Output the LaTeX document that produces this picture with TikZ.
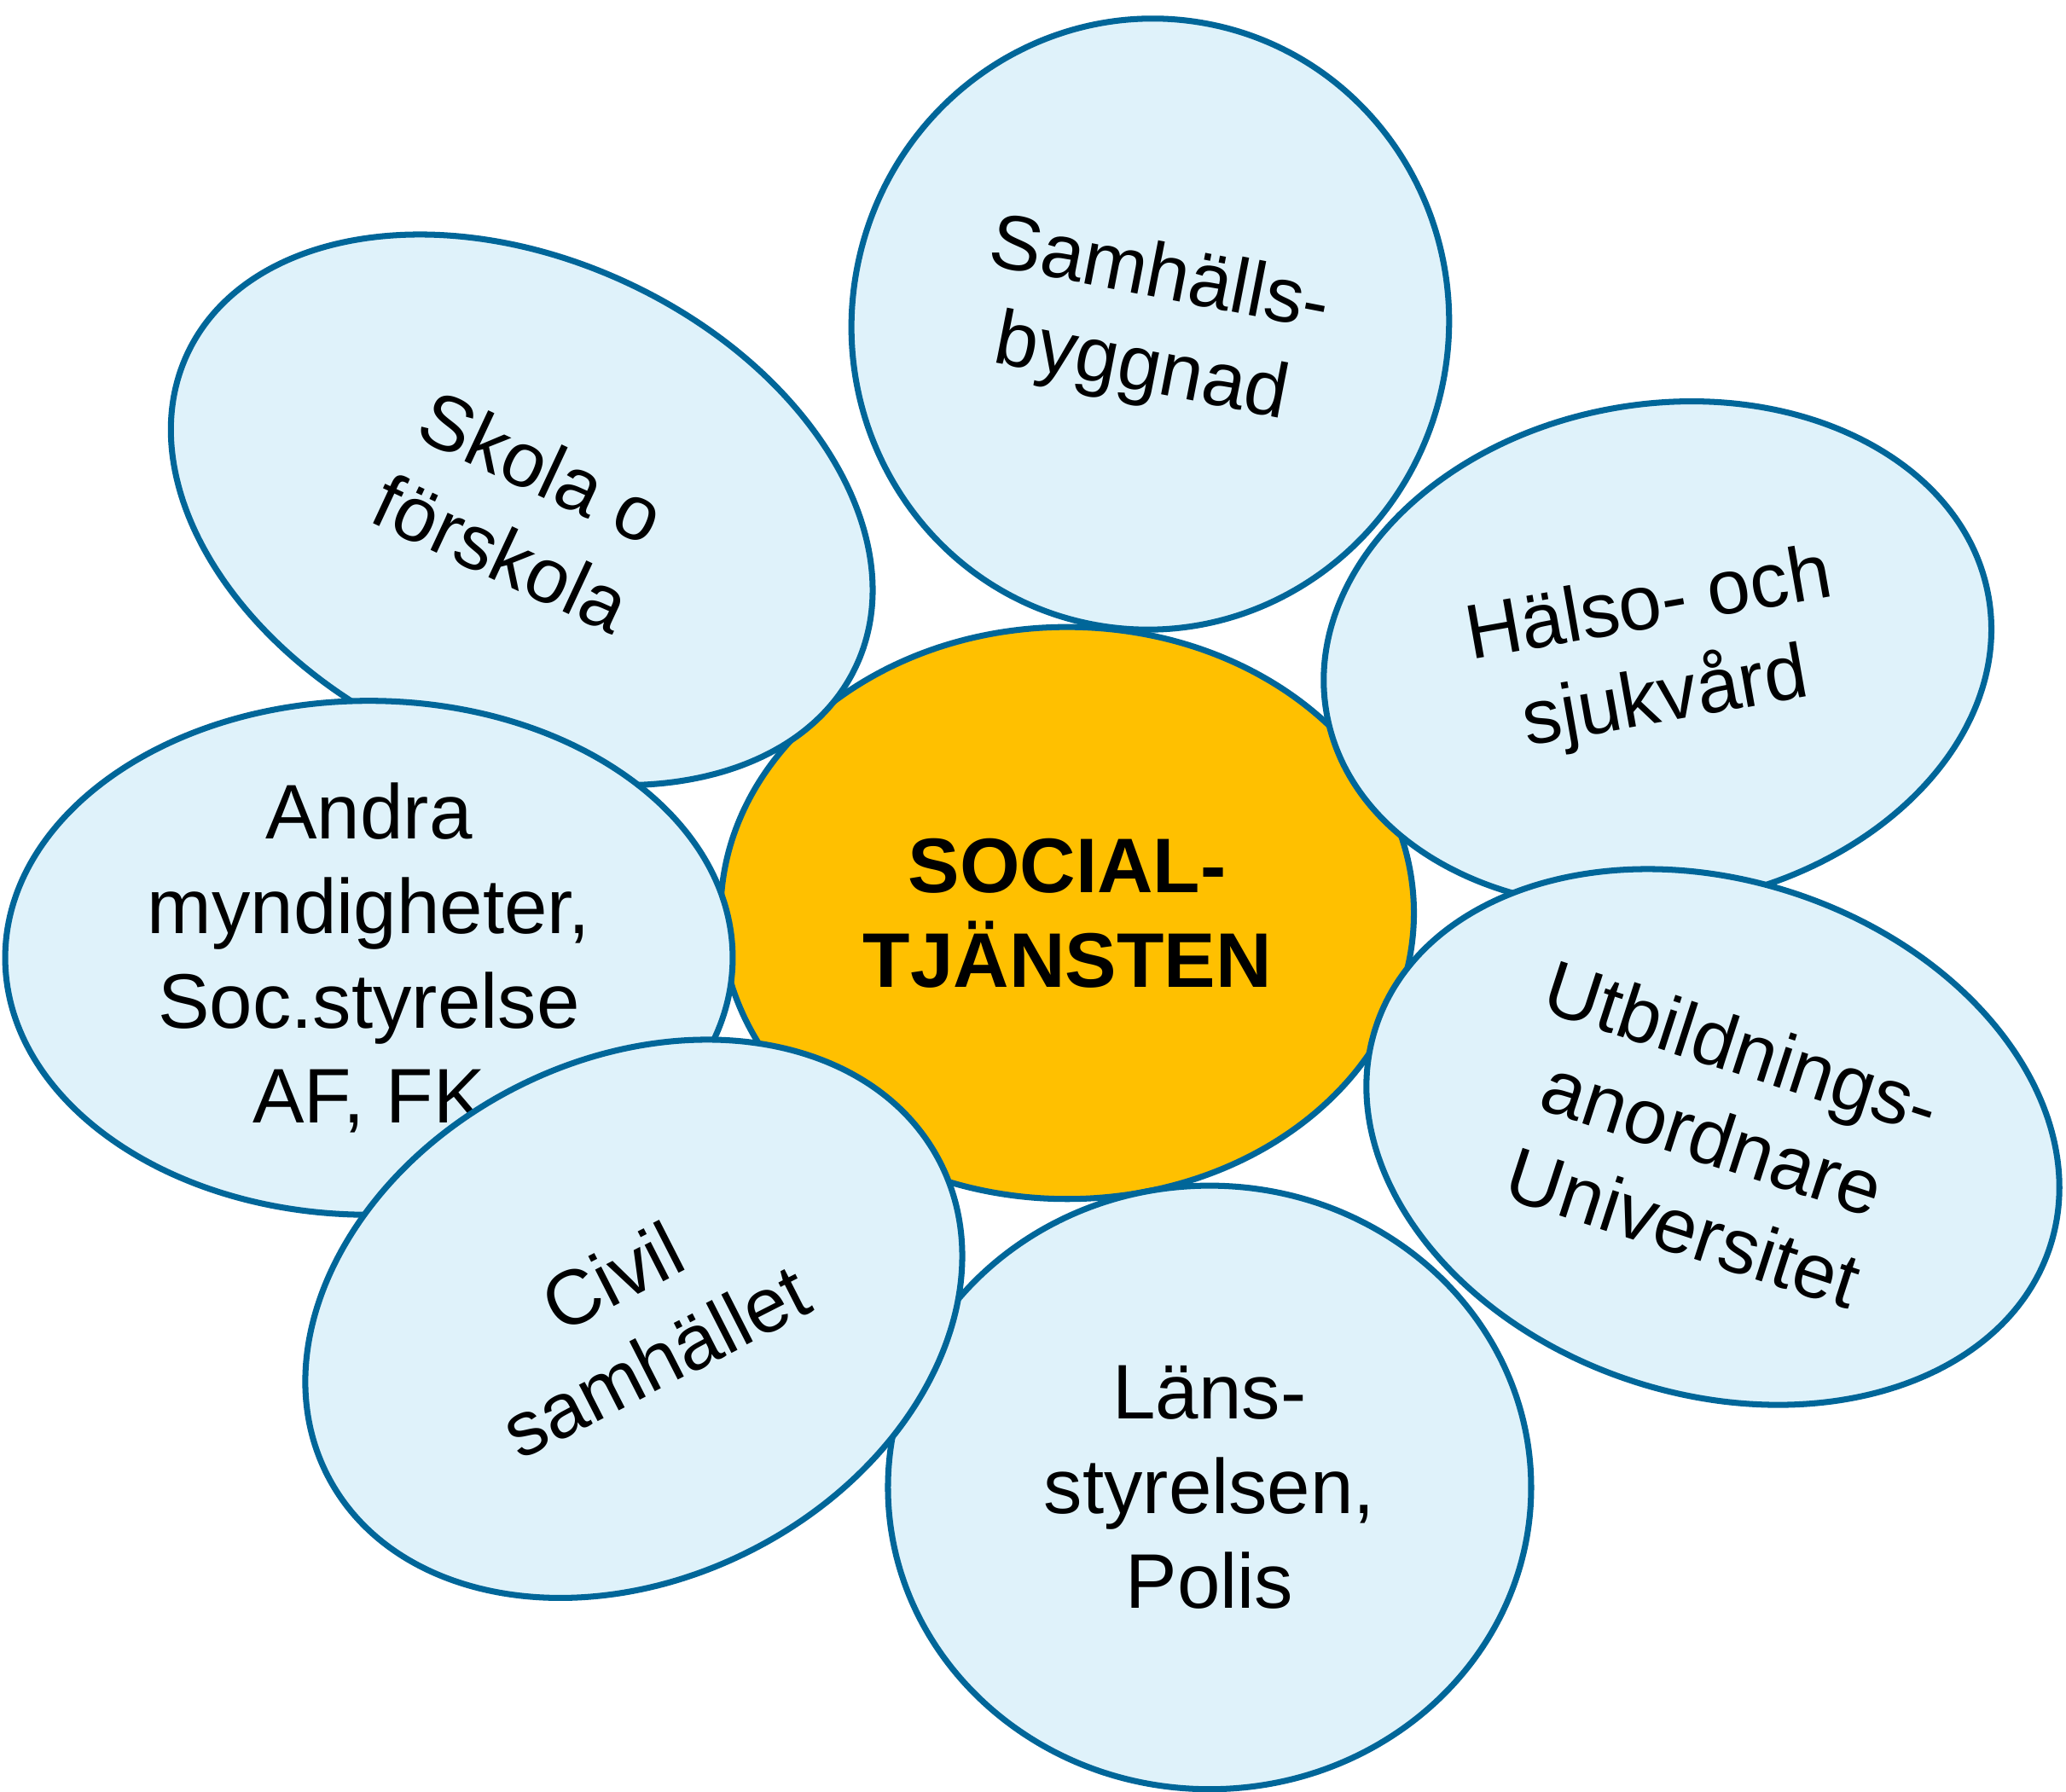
\documentclass[tikz,border=0pt]{standalone}
\usepackage{fontspec}
\setmainfont{Liberation Sans}
\usetikzlibrary{shapes.geometric}
\definecolor{petalfill}{HTML}{DFF2FA}
\definecolor{petalline}{HTML}{006699}
\definecolor{corefill}{HTML}{FFC000}
\tikzset{
  petal/.style={ellipse, draw=petalline, line width=2pt, fill=petalfill,
    inner sep=0pt, align=center, font=\fontsize{25.8}{31.6}\selectfont},
  core/.style={petal, fill=corefill, font=\fontsize{25.8}{31.6}\selectfont\bfseries}
}
\begin{document}
\begin{tikzpicture}[x=0.015446cm, y=-0.015446cm]
\useasboundingbox[fill=white] (0,0) rectangle (1568,1360);
\node[core, minimum width=8.125cm, minimum height=6.704cm] (core) at (810,693) {SOCIAL-\\TJÄNSTEN};
\node[petal, minimum width=7.538cm, minimum height=7.074cm] (lans) at (918,1129) {Läns-\\styrelsen,\\Polis};
\node[petal, minimum width=8.650cm, minimum height=5.869cm, rotate=-25] (skola) at (396,387) {Skola o\\förskola};
\node[petal, minimum width=8.526cm, minimum height=6.024cm] (andra) at (280,727) {Andra\\myndigheter,\\Soc.styrelse\\AF, FK};
\node[petal, minimum width=8.063cm, minimum height=6.086cm, rotate=27] (civil) at (481,1001) {Civil\\samhället};
\node[petal, minimum width=6.997cm, minimum height=7.167cm, rotate=-11] (samh) at (873,246) {Samhälls-\\byggnad};
\node[petal, minimum width=7.877cm, minimum height=5.869cm, rotate=10] (halso) at (1258,497) {Hälso- och\\sjukvård};
\node[petal, minimum width=8.310cm, minimum height=6.024cm, rotate=-18] (utb) at (1300,863) {Utbildnings-\\anordnare\\Universitet};
\end{tikzpicture}
\end{document}
